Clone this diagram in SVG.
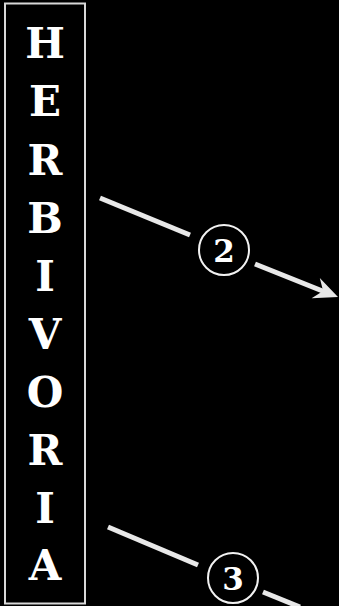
<svg xmlns="http://www.w3.org/2000/svg" width="339" height="606" viewBox="0 0 339 606">
<defs>
<style>
.lt{font-family:"DejaVu Serif","Liberation Serif",serif;font-weight:bold;font-size:42px;fill:#fff;text-anchor:middle}
.ln{stroke:#e8e8e8;stroke-width:5;fill:none}
.head{fill:#e8e8e8}
.badge{fill:#000;stroke:#f2f2f2;stroke-width:2}
.num{font-family:"DejaVu Serif","Liberation Serif",serif;font-weight:bold;font-size:31px;fill:#fff;text-anchor:middle}
</style>
</defs>
<rect width="339" height="606" fill="#000"/>
<g id="herbivoria">
<rect x="5" y="3.5" width="80" height="600" fill="#000" stroke="#d8d8d8" stroke-width="2"/>
<text class="lt" x="45" y="58">H</text>
<text class="lt" x="45" y="116">E</text>
<text class="lt" x="45" y="175">R</text>
<text class="lt" x="45" y="233">B</text>
<text class="lt" x="45" y="291">I</text>
<text class="lt" x="45" y="349">V</text>
<text class="lt" x="45" y="407">O</text>
<text class="lt" x="45" y="465">R</text>
<text class="lt" x="45" y="523">I</text>
<text class="lt" x="45" y="580">A</text>
</g>
<g id="connectors">
<line class="ln" x1="100" y1="198" x2="190" y2="235"/>
<line class="ln" x1="255" y1="264" x2="325" y2="292"/>
<polygon class="head" points="338,297 311.6,298.3 323.1,291.1 319.8,277.9"/>
<line class="ln" x1="108" y1="527" x2="198" y2="565"/>
<line class="ln" x1="263" y1="592" x2="300" y2="607"/>
</g>
<g id="badge2">
<circle class="badge" cx="224" cy="250" r="25"/>
<text class="num" x="224" y="262">2</text>
</g>
<g id="badge3">
<circle class="badge" cx="233" cy="578" r="25"/>
<text class="num" x="233" y="590">3</text>
</g>
</svg>
